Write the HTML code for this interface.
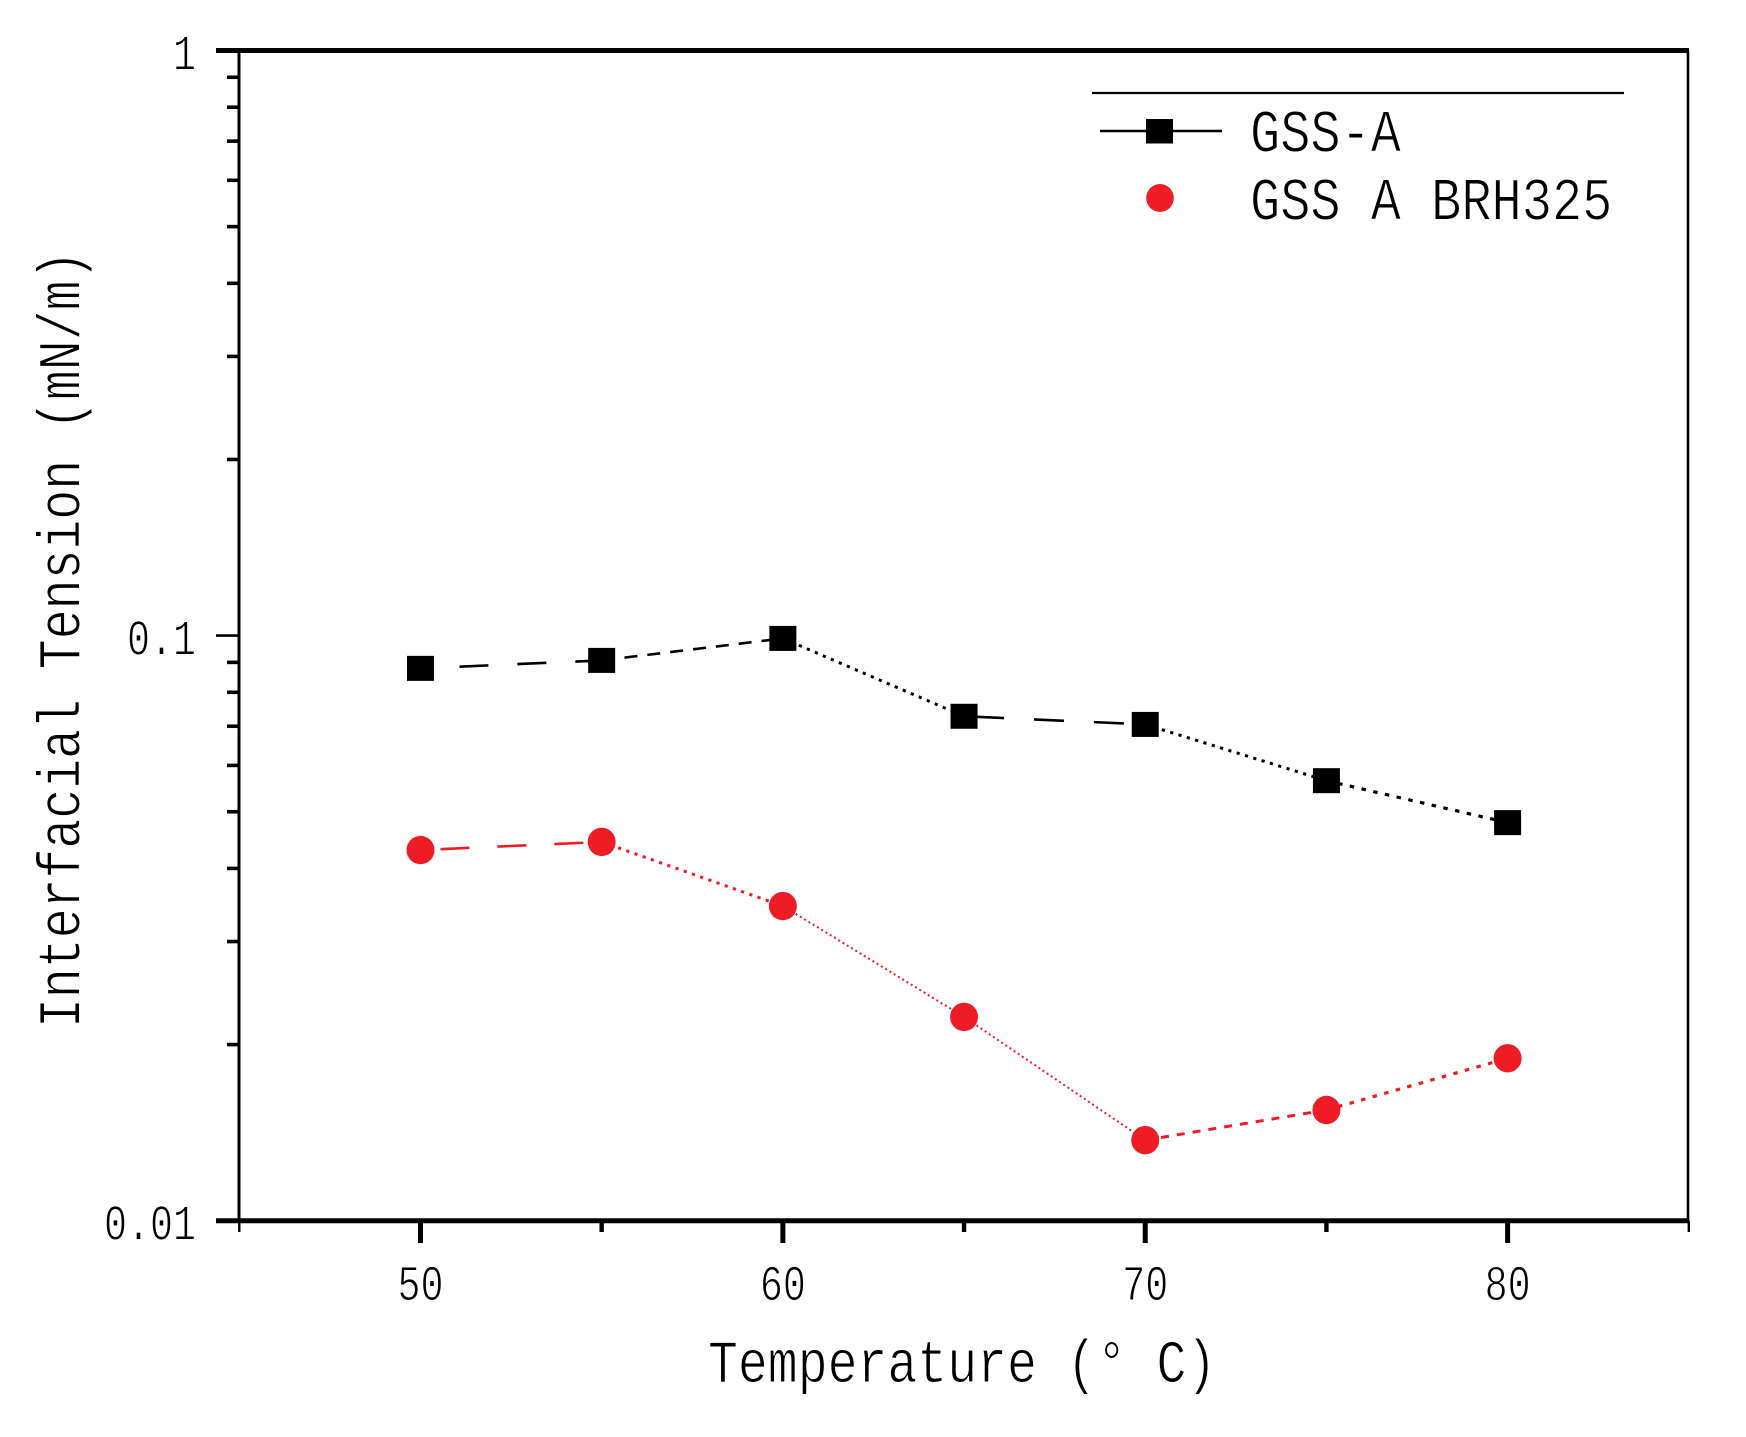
<!DOCTYPE html>
<html>
<head>
<meta charset="utf-8">
<title>Interfacial Tension vs Temperature</title>
<style>
html,body{margin:0;padding:0;background:#fff;}
svg{display:block;}
text{font-family:"Liberation Mono","Liberation Serif",monospace;fill:#000;stroke:#fff;stroke-width:1;white-space:pre;}
</style>
</head>
<body>
<svg id="chart" xmlns="http://www.w3.org/2000/svg" width="1746" height="1437" viewBox="0 0 1746 1437"></svg>
<script>
const temperatures = [50, 55, 60, 65, 70, 75, 80];
const gssA = [0.0879, 0.0907, 0.0989, 0.0728, 0.0705, 0.0565, 0.0479];
const gssABrij = [0.0430, 0.0444, 0.0345, 0.0223, 0.01373, 0.01546, 0.01895];
const gssASegments = ['longA', 'medium', 'dot', 'longB', 'dot', 'short'];
const gssABrijSegments = ['longC', 'dot', 'fine', 'fine', 'dash', 'short'];
const xTickValues = [45, 50, 55, 60, 65, 70, 75, 80, 85];
const xTickLabels = ['50', '60', '70', '80'];
const yTickLabels = ['0.01', '0.1', '1'];
const yTickValues = [0.01, 0.1, 1];
const legendLabels = ['GSS-A', 'GSS A BRH325'];

const dashStyles = {
  longA: {dash: '29 29', offset: 19, width: 2.6},
  longB: {dash: '30 30', offset: 50, width: 2.6},
  longC: {dash: '29 28', offset: 37, width: 2.6},
  medium: {dash: '13 10', offset: 0, width: 2.6},
  dash: {dash: '8 8', offset: 0, width: 3},
  short: {dash: '4.5 7.5', offset: 0, width: 3.2},
  dot: {dash: '3.2 5.5', offset: 0, width: 3},
  fine: {dash: '2 3', offset: 0, width: 2}
};

const svg = document.getElementById('chart');
const NS = 'http://www.w3.org/2000/svg';
function make(tag, attrs, parent) {
  const el = document.createElementNS(NS, tag);
  for (const k in attrs) el.setAttribute(k, attrs[k]);
  (parent || svg).appendChild(el);
  return el;
}
const X0 = 239.3, X1 = 1688.8, Y0 = 1220.7, Y1 = 50.5;
function xScale(v) { return X0 + (v - 45) / 40 * (X1 - X0); }
function yScale(v) { return Y0 + (Math.log10(v) + 2) / 2 * (Y1 - Y0); }

/* monospaced text squeezed horizontally so its advance equals the given cell */
function cellText(str, x, y, size, cell, angle) {
  const squeeze = cell / (size * 0.6);
  const t = make('text', {x: 0, y: 0, 'font-size': size,
    transform: 'translate(' + x + ' ' + y + ') rotate(' + (angle || 0) + ') scale(' + squeeze.toFixed(4) + ' 1)'});
  t.textContent = str;
  return t;
}

/* frame */
let el;
el = make('line', {x1: 216, x2: 1689, y1: Y1, y2: Y1, stroke: '#000', 'stroke-width': 5});


el = make('line', {x1: 216, x2: 1689, y1: Y0, y2: Y0, stroke: '#000', 'stroke-width': 5});


el = make('line', {x1: 239, x2: 239, y1: Y1, y2: Y0, stroke: '#000', 'stroke-width': 3});


el = make('line', {x1: 1688, x2: 1688, y1: Y1, y2: Y0, stroke: '#000', 'stroke-width': 2.6});



/* x ticks */
xTickValues.forEach(function (v) {
  const major = v % 10 === 0;
  const edge = v === 45 || v === 85;
  const tick = make('line', {x1: xScale(v), x2: xScale(v), y1: Y0, y2: major ? 1243 : 1232,
    stroke: '#000', 'stroke-width': edge ? 2.4 : (major ? 5 : 4.4)});
  
  
});
xTickLabels.forEach(function (s) {
  const t = cellText(s, xScale(Number(s)) - 23, 1300, 50, 23);
  
  
});

/* y ticks */
[0.01, 0.1].forEach(function (decade) {
  for (let m = 2; m <= 9; m++) {
    const v = decade * m;
    const tick = make('line', {x1: 227, x2: 239, y1: yScale(v), y2: yScale(v), stroke: '#000', 'stroke-width': 3.6});
    
    
  }
});
yTickValues.forEach(function (v) {
  const tick = make('line', {x1: 216, x2: 239, y1: yScale(v), y2: yScale(v), stroke: '#000', 'stroke-width': 2.6});
  
  
});
yTickLabels.forEach(function (s, i) {
  const t = cellText(s, 196 - s.length * 23, yScale(yTickValues[i]) + 19, 50, 23);
  
  
});

/* series */
function drawLines(values, segs, color, name) {
  for (let i = 0; i < values.length - 1; i++) {
    const st = dashStyles[segs[i]];
    const seg = make('line', {x1: xScale(temperatures[i]), y1: yScale(values[i]),
      x2: xScale(temperatures[i + 1]), y2: yScale(values[i + 1]),
      stroke: color, 'stroke-width': st.width, 'stroke-dasharray': st.dash, 'stroke-dashoffset': st.offset});
    
    
  }
}
drawLines(gssA, gssASegments, '#000', 'gss-a');
drawLines(gssABrij, gssABrijSegments, '#ee1c25', 'gss-a-brh325');

gssA.forEach(function (v, i) {
  const p = make('rect', {x: xScale(temperatures[i]) - 13.5, y: yScale(v) - 12.5, width: 27, height: 25, fill: '#000'});
  
  
});
gssABrij.forEach(function (v, i) {
  const p = make('ellipse', {cx: xScale(temperatures[i]), cy: yScale(v), rx: 14, ry: 14.2, fill: '#ee1c25'});
  
  
});

/* legend */
el = make('line', {x1: 1092, x2: 1624, y1: 93, y2: 93, stroke: '#000', 'stroke-width': 2.2});


el = make('line', {x1: 1100, x2: 1222, y1: 131, y2: 131, stroke: '#000', 'stroke-width': 2.6});


el = make('rect', {x: 1146, y: 119, width: 27, height: 24.5, fill: '#000'});


el = make('ellipse', {cx: 1160, cy: 198, rx: 13.8, ry: 14, fill: '#ee1c25'});


el = cellText(legendLabels[0], 1250, 151.5, 60, 30.2);


el = cellText(legendLabels[1], 1250, 219.5, 60, 30.2);



/* titles */
el = cellText('Temperature (° C)', 708, 1382, 60, 29.9);


el = cellText('Interfacial Tension (mN/m)', 79.5, 1028, 60, 29.9, -90);


</script>
</body>
</html>
